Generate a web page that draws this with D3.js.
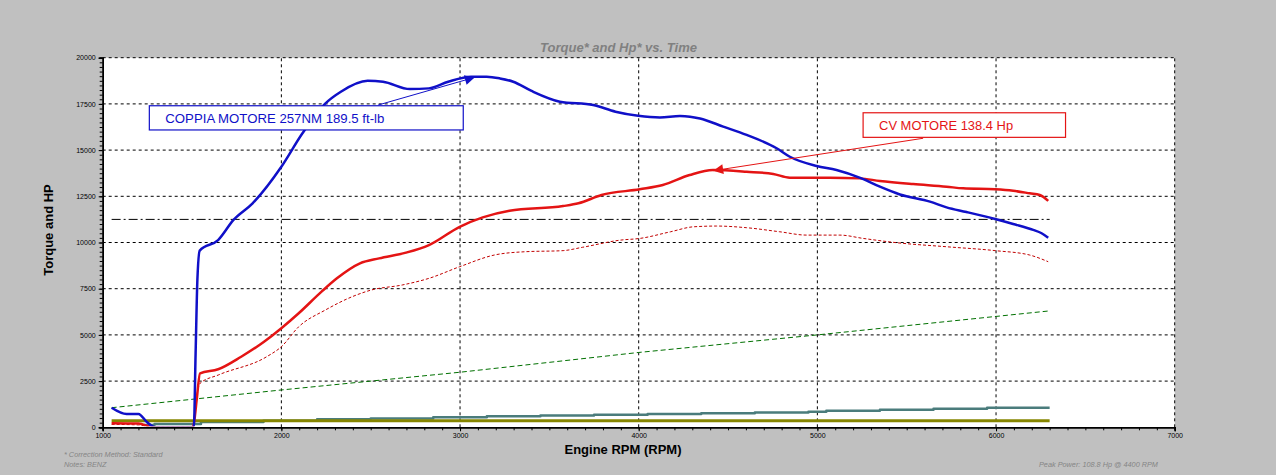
<!DOCTYPE html>
<html>
<head>
<meta charset="utf-8">
<script src="https://cdn.jsdelivr.net/npm/d3@7"></script>
<style>
  body { margin: 0; background: #c0c0c0; }
  .chart text { font-family: "Liberation Sans", Arial, sans-serif; }
</style>
</head>
<body>
<div class="chart"></div>
<script>
var width = 1276, height = 475;

// --- data ---
var xTicks = [1000, 2000, 3000, 4000, 5000, 6000, 7000];
var yTicks = [0, 2500, 5000, 7500, 10000, 12500, 15000, 17500, 20000];

// torque (blue)
var torqueRpm = [1050, 1134, 1200, 1246, 1293, 1510, 1520, 1530, 1543, 1646, 1732, 1839, 2000, 2118, 2247, 2333, 2483, 2569, 2719, 2826, 2934, 3062, 3149, 3223, 3298, 3400, 3559, 3745, 3870, 3997, 4119, 4231, 4287, 4343, 4473, 4604, 4772, 4846, 4996, 5107, 5247, 5350, 5462, 5630, 5723, 5835, 5995, 6096, 6208, 6255, 6292];
var torqueVal = [1060, 720, 720, 300, 0, 0, 4000, 8000, 9560, 10130, 11220, 12120, 14100, 15910, 17530, 18160, 18750, 18700, 18300, 18340, 18700, 18970, 18970, 18880, 18700, 18200, 17620, 17440, 17080, 16860, 16770, 16840, 16810, 16710, 16270, 15820, 15100, 14640, 14140, 13920, 13470, 13020, 12600, 12210, 11900, 11650, 11270, 11000, 10680, 10500, 10260];

// power (red)
var hpRpm = [1050, 1200, 1282, 1505, 1516, 1526, 1545, 1646, 1775, 1903, 2000, 2097, 2225, 2311, 2440, 2547, 2697, 2826, 2998, 3127, 3277, 3577, 3663, 3792, 4006, 4135, 4285, 4416, 4604, 4753, 4846, 5070, 5238, 5350, 5536, 5723, 5816, 5995, 6096, 6189, 6245, 6292];
var hpVal = [220, 200, 0, 0, 600, 1480, 2920, 3140, 3820, 4630, 5360, 6170, 7340, 8060, 8870, 9140, 9450, 9860, 10850, 11360, 11720, 11970, 12120, 12570, 12880, 13110, 13650, 13920, 13830, 13710, 13510, 13510, 13470, 13330, 13160, 13020, 12930, 12880, 12800, 12660, 12570, 12250];

// second power run (thin dashed dark red)
var hp2Rpm = [1050, 1200, 1280, 1505, 1520, 1545, 1647, 1918, 2000, 2097, 2247, 2397, 2504, 2676, 2826, 2998, 3191, 3363, 3577, 3685, 3899, 4006, 4178, 4307, 4436, 4604, 4790, 4940, 5126, 5257, 5443, 5723, 5995, 6189, 6292];
var hp2Val = [160, 130, 0, 0, 1300, 2380, 2830, 3820, 4360, 5440, 6350, 7070, 7430, 7700, 8060, 8690, 9320, 9500, 9560, 9740, 10130, 10220, 10580, 10850, 10890, 10800, 10580, 10400, 10400, 10220, 9990, 9770, 9560, 9320, 8960];

// rpm trace (green dashed)
var rpmTraceRpm = [1050, 2000, 3000, 4000, 5000, 6000, 6300];
var rpmTraceVal = [1060, 2020, 2980, 4050, 5000, 6000, 6300];

// stepped trace (teal)
var stepRpm = [1230, 1290, 1550, 1900, 2200, 2500, 2850, 3150, 3450, 3750, 4050, 4350, 4650, 4950, 5050, 5350, 5650, 5950, 6300];
var stepVal = [120, 180, 290, 360, 430, 470, 540, 600, 640, 680, 720, 760, 800, 840, 900, 950, 1010, 1060, 1060];

// flat trace (olive)
var flatRpm = [1050, 6300];
var flatVal = [360, 360];

// reference line (dash-dot)
var refRpm = [1050, 6300];
var refVal = [11250, 11250];

// callouts: box corners + arrow, in rpm / chart units
var torqueNote = { text: 'COPPIA MOTORE 257NM 189.5 ft-lb', box: [1261, 17400, 3018, 16090], from: [2542, 17440], to: [3083, 18940] };
var hpNote = { text: 'CV MOTORE 138.4 Hp', box: [5256, 17020, 6389, 15690], from: [5592, 15640], to: [4417, 13885] };

var svg = d3.select('.chart')
    .append('svg')
    .attr('width', width)
    .attr('height', height);

var x = d3.scaleLinear().domain([1000, 7000]).range([102.7, 1174.7]);
var y = d3.scaleLinear().domain([0, 20000]).range([427.3, 57.7]);

// plot background
svg.append('rect')
    .attr('x', x(1000)).attr('y', y(20000))
    .attr('width', x(7000) - x(1000)).attr('height', y(0) - y(20000))
    .attr('fill', 'white');

// traces sitting on zero disappear under the axis, like on the sheet
svg.append('clipPath').attr('id', 'plotClip')
    .append('rect')
    .attr('x', x(1000)).attr('y', y(20000))
    .attr('width', x(7000) - x(1000)).attr('height', y(0) - y(20000) - 1);

// dashed grid
svg.append('g').selectAll('line')
    .data(xTicks.slice(1))
    .enter().append('line')
    .attr('x1', d => x(d)).attr('x2', d => x(d))
    .attr('y1', y(0)).attr('y2', y(20000))
    .attr('stroke', 'black').attr('stroke-dasharray', '3,3');
svg.append('g').selectAll('line')
    .data(yTicks.slice(1))
    .enter().append('line')
    .attr('y1', d => y(d)).attr('y2', d => y(d))
    .attr('x1', x(1000)).attr('x2', x(7000))
    .attr('stroke', 'black').attr('stroke-dasharray', '3,3');

// traces
var traces = svg.append('g').attr('clip-path', 'url(#plotClip)');

function drawTrace(rpm, val, color, w, dash, curve) {
    var line = d3.line()
        .x(d => x(d[0]))
        .y(d => y(d[1]))
        .curve(curve || d3.curveLinear);
    traces.append('path')
        .datum(d3.zip(rpm, val))
        .attr('d', line)
        .attr('fill', 'none')
        .attr('stroke', color)
        .attr('stroke-width', w)
        .attr('stroke-linejoin', 'round')
        .attr('stroke-dasharray', dash || null);
}

drawTrace(refRpm, refVal, 'black', 1, '9,3,2,3');
drawTrace(rpmTraceRpm, rpmTraceVal, '#007000', 1, '5,3');
drawTrace(stepRpm, stepVal, '#4a7c7c', 2.5, null, d3.curveStepAfter);
drawTrace(flatRpm, flatVal, '#868600', 3);
drawTrace(hp2Rpm, hp2Val, '#c00000', 1, '3,2', d3.curveMonotoneX);
drawTrace(hpRpm, hpVal, '#e41414', 2.5, null, d3.curveMonotoneX);
drawTrace(torqueRpm, torqueVal, '#1010c8', 2.5, null, d3.curveMonotoneX);

// axes (on top of the traces)
var xMinor = d3.axisBottom(x).tickValues(d3.range(1000, 7001, 100)).tickSize(3).tickFormat('');
var xMajor = d3.axisBottom(x).tickValues(xTicks).tickSize(4).tickPadding(2).tickFormat(d3.format('d'));
var yMinor = d3.axisLeft(y).tickValues(d3.range(0, 20001, 250)).tickSize(3).tickFormat('');
var yMajor = d3.axisLeft(y).tickValues(yTicks).tickSize(4).tickPadding(3).tickFormat(d3.format('d'));

function styleAxis(g) {
    g.selectAll('path').attr('stroke', 'black');
    g.selectAll('line').attr('stroke', 'black');
    g.selectAll('text')
        .attr('fill', 'black')
        .style('font-size', '7px');
}

svg.append('g').attr('transform', `translate(0,${y(0)})`).call(xMinor).call(styleAxis);
svg.append('g').attr('transform', `translate(0,${y(0)})`).call(xMajor).call(styleAxis);
svg.append('g').attr('transform', `translate(${x(1000)},0)`).call(yMinor).call(styleAxis);
svg.append('g').attr('transform', `translate(${x(1000)},0)`).call(yMajor).call(styleAxis);
svg.selectAll('.domain').attr('stroke-width', 1.5);

// callouts
svg.append('defs').selectAll('marker')
    .data([['arrBlue', '#1010c8'], ['arrRed', '#e41414']])
    .enter().append('marker')
    .attr('id', d => d[0])
    .attr('viewBox', '0 0 10 10')
    .attr('refX', 10).attr('refY', 5)
    .attr('markerWidth', 14).attr('markerHeight', 10)
    .attr('markerUnits', 'userSpaceOnUse')
    .attr('orient', 'auto')
    .append('path')
    .attr('d', 'M0,0L10,5L0,10z')
    .attr('fill', d => d[1]);

function drawNote(note, color, marker, textWidth) {
    svg.append('line')
        .attr('x1', x(note.from[0])).attr('y1', y(note.from[1]))
        .attr('x2', x(note.to[0])).attr('y2', y(note.to[1]))
        .attr('stroke', color).attr('stroke-width', 1)
        .attr('marker-end', `url(#${marker})`);
    svg.append('rect')
        .attr('x', x(note.box[0])).attr('y', y(note.box[1]))
        .attr('width', x(note.box[2]) - x(note.box[0]))
        .attr('height', y(note.box[3]) - y(note.box[1]))
        .attr('fill', 'white').attr('stroke', color).attr('stroke-width', 1.2);
    svg.append('text')
        .attr('x', x(note.box[0]) + 16)
        .attr('y', (y(note.box[1]) + y(note.box[3])) / 2 + 5)
        .attr('fill', color)
        .attr('textLength', textWidth).attr('lengthAdjust', 'spacingAndGlyphs')
        .style('font-size', '13px')
        .text(note.text);
}

drawNote(torqueNote, '#1010c8', 'arrBlue', 219);
drawNote(hpNote, '#e41414', 'arrRed', 134);

// titles and labels
svg.append('text')
    .attr('x', 540).attr('y', 51.5)
    .attr('fill', '#808080')
    .attr('textLength', 157).attr('lengthAdjust', 'spacingAndGlyphs')
    .style('font-size', '13px').style('font-style', 'italic').style('font-weight', 'bold')
    .text('Torque* and Hp* vs. Time');

svg.append('text')
    .attr('x', 623).attr('y', 453.5)
    .attr('text-anchor', 'middle')
    .style('font-size', '13px').style('font-weight', 'bold')
    .text('Engine RPM (RPM)');

svg.append('text')
    .attr('transform', 'translate(53,230) rotate(-90)')
    .attr('text-anchor', 'middle')
    .style('font-size', '13px').style('font-weight', 'bold')
    .text('Torque and HP');

var notes = svg.append('g')
    .attr('fill', '#858585')
    .style('font-size', '7.3px').style('font-style', 'italic');
notes.append('text').attr('x', 64).attr('y', 456.8).text('* Correction Method: Standard');
notes.append('text').attr('x', 64).attr('y', 466.8).text('Notes: BENZ');
notes.append('text').attr('x', 1039).attr('y', 466.8).text('Peak Power: 108.8 Hp @ 4400 RPM');
</script>
</body>
</html>
